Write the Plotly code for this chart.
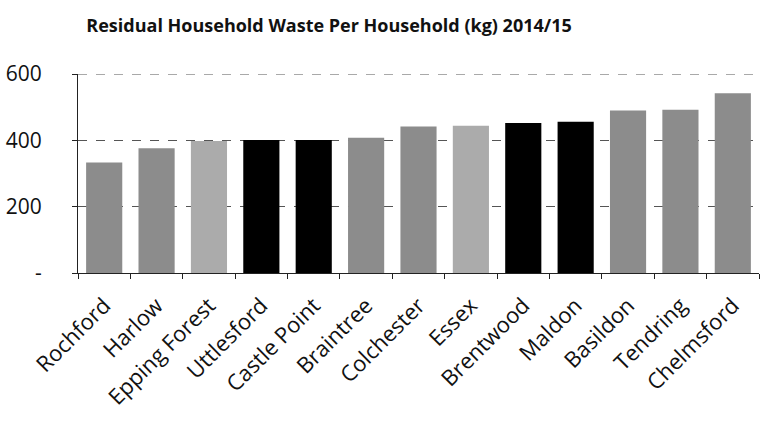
import plotly.graph_objects as go

# Residual household waste per household (kg), 2014/15
councils = ["Rochford", "Harlow", "Epping Forest", "Uttlesford", "Castle Point",
            "Braintree", "Colchester", "Essex", "Brentwood", "Maldon",
            "Basildon", "Tendring", "Chelmsford"]
waste_kg = [333, 376, 398, 401, 401, 408, 442, 444, 452, 456, 490, 492, 542]
# shading group per council: 0 = standard grey, 1 = light grey, 2 = black
group = [0, 0, 1, 2, 2, 0, 0, 1, 2, 2, 0, 0, 0]
palette = {0: "#8c8c8c", 1: "#ababab", 2: "#000000"}

y_ticks = [0, 200, 400, 600]
y_tick_text = ["-", "200", "400", "600"]

font_family = "'Open Sans', 'Noto Sans', sans-serif"
grid_color = "#555"

fig = go.Figure(go.Bar(
    x=councils,
    y=waste_kg,
    marker=dict(color=[palette[g] for g in group], line=dict(width=0)),
))

fig.update_layout(
    width=764, height=428,
    margin=dict(l=78, r=5, t=74, b=155, autoexpand=False),
    paper_bgcolor="white", plot_bgcolor="white",
    bargap=0.31,
    showlegend=False,
    title=dict(
        text="<b>Residual Household Waste Per Household (kg) 2014/15</b>",
        x=0.113, xanchor="left", xref="container",
        y=0.94, yanchor="middle",
        font=dict(family=font_family, size=18, color="#111"),
    ),
    font=dict(family=font_family, color="#111"),
)

fig.update_xaxes(
    showline=True, linecolor="#222", linewidth=1,
    ticks="outside", tickson="boundaries", ticklen=5, tickcolor="#222",
    tickangle=-45, tickfont=dict(size=22, color="#111"),
    ticklabelstandoff=10,
    showgrid=False,
)

fig.update_yaxes(
    range=[y_ticks[0], y_ticks[-1]],
    tickvals=y_ticks, ticktext=y_tick_text,
    showline=True, linecolor="#222", linewidth=1,
    ticks="outside", ticklen=5, tickcolor="#222",
    ticklabelstandoff=26,
    tickfont=dict(size=21, color="#111"),
    showgrid=True, gridcolor=grid_color, gridwidth=1, griddash="dash",
    zeroline=False,
)

# top gridline sits on the edge of the plot area, so draw it explicitly
fig.add_shape(
    type="line", xref="paper", yref="y",
    x0=0, x1=1, y0=y_ticks[-1], y1=y_ticks[-1],
    line=dict(color=grid_color, width=1, dash="dash"),
)

fig.write_html("out.html")
